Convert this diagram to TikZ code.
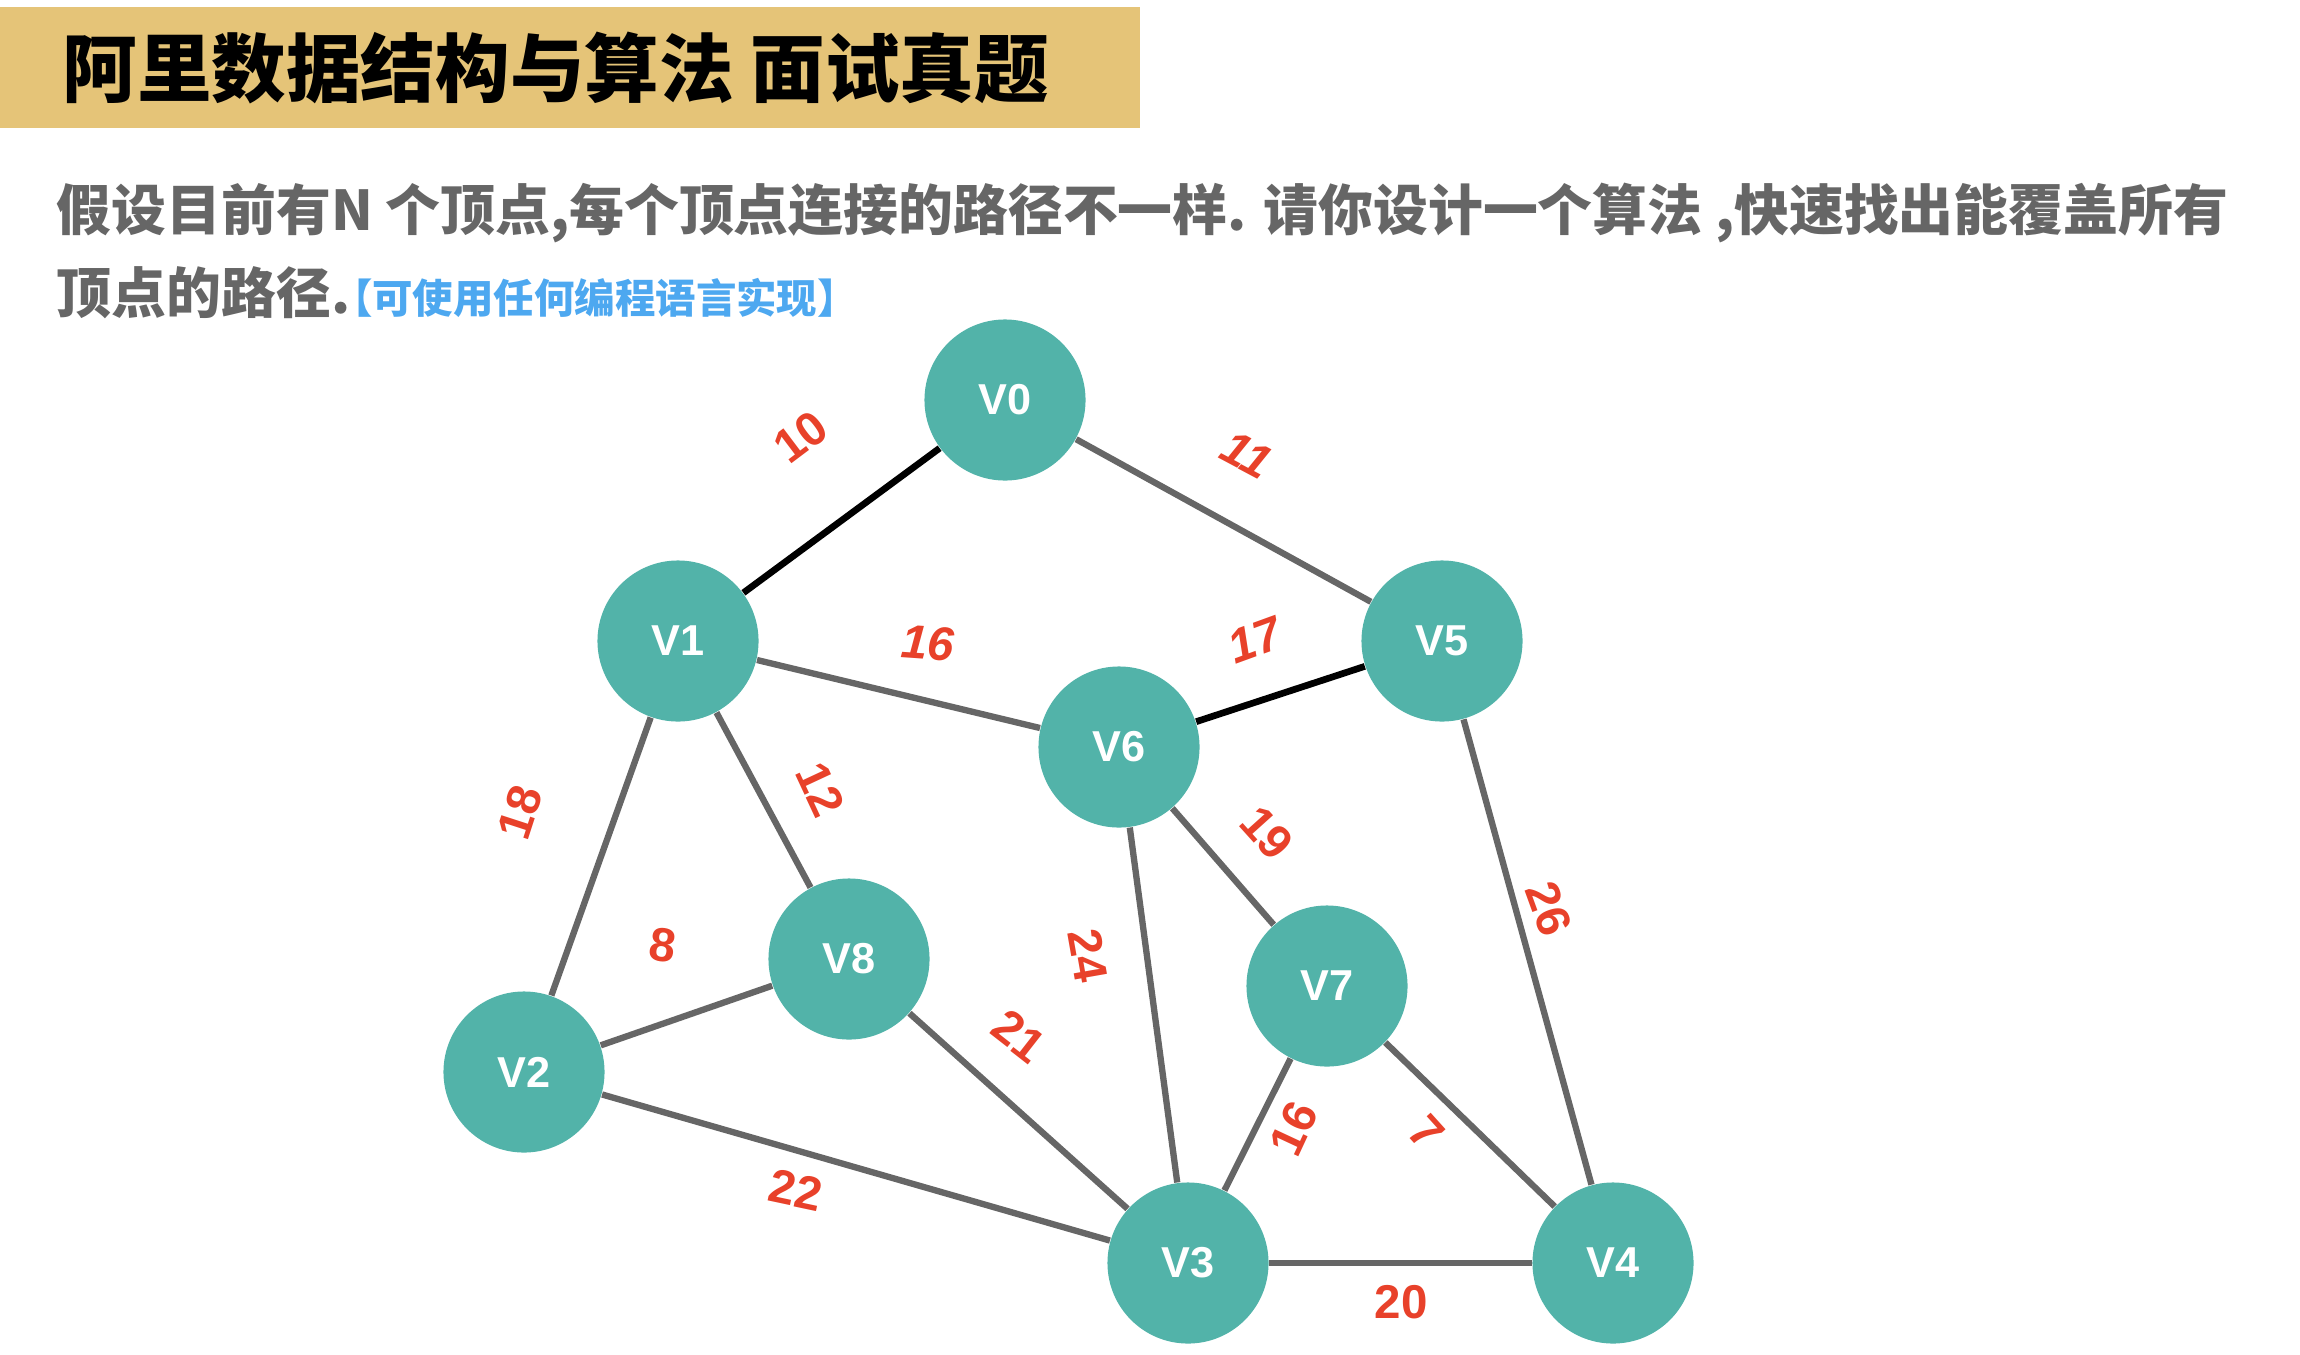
\documentclass[tikz,border=0pt]{standalone}
\usepackage{fontspec}
\setmainfont{Liberation Sans}
\newfontfamily\cjk{Noto Sans CJK SC}
\usetikzlibrary{positioning}
\definecolor{titlegold}{RGB}{229,196,120}
\definecolor{vteal}{RGB}{82,179,169}
\definecolor{roadgrey}{RGB}{102,102,102}
\definecolor{wtred}{RGB}{232,65,42}
\definecolor{askgrey}{RGB}{102,102,102}
\definecolor{hintblue}{RGB}{77,168,240}

\begin{document}
\begin{tikzpicture}[x=0.01cm,y=-0.01cm,
  vertex/.style={circle,fill=vteal,minimum size=1.61cm,inner sep=0pt,text=white,
    font=\bfseries\fontsize{12.3}{13}\selectfont},
  road/.style={draw=roadgrey,line width=1.8pt},
  best/.style={draw=black,line width=1.9pt},
  wt/.style={text=wtred,inner sep=0pt,font=\bfseries\fontsize{13.5}{14}\selectfont},
  wti/.style={wt,font=\bfseries\itshape\fontsize{13.5}{14}\selectfont}]
  \useasboundingbox (0,0) rectangle (2300,1354);
  \fill[titlegold] (0,7) rectangle (1140,128);
  \node[anchor=west,inner sep=0pt,font=\cjk\bfseries\fontsize{21.2}{22}\selectfont] (title) at (62,68)
    {阿里数据结构与算法 面试真题};
  \node[anchor=west,inner sep=0pt,text=askgrey,font=\cjk\bfseries\fontsize{15.6}{16}\selectfont] (ask1) at (56,213)
    {假设目前有N 个顶点,每个顶点连接的路径不一样. 请你设计一个算法 ,快速找出能覆盖所有};
  \node[anchor=west,inner sep=0pt,text=askgrey,font=\cjk\bfseries\fontsize{15.6}{16}\selectfont] (ask2) at (56,293)
    {顶点的路径.{\color{hintblue}\fontsize{11.5}{12}\selectfont\kern-0.45em【可使用任何编程语言实现】}};

  \node[vertex] (v0) at (1005,400) {V0};
  \node[vertex] (v1) at (678,641) {V1};
  \node[vertex] (v5) at (1442,641) {V5};
  \node[vertex] (v6) at (1119,747) {V6};
  \node[vertex] (v8) at (849,959) {V8};
  \node[vertex] (v7) at (1327,986) {V7};
  \node[vertex] (v2) at (524,1072) {V2};
  \node[vertex] (v3) at (1188,1263) {V3};
  \node[vertex] (v4) at (1613,1263) {V4};

  \draw[best] (v0) -- (v1);
  \draw[best] (v6) -- (v5);
  \draw[road] (v0) -- (v5);
  \draw[road] (v1) -- (v6);
  \draw[road] (v1) -- (v8);
  \draw[road] (v1) -- (v2);
  \draw[road] (v2) -- (v8);
  \draw[road] (v2) -- (v3);
  \draw[road] (v8) -- (v3);
  \draw[road] (v6) -- (v3);
  \draw[road] (v6) -- (v7);
  \draw[road] (v7) -- (v3);
  \draw[road] (v7) -- (v4);
  \draw[road] (v5) -- (v4);
  \draw[road] (v3) -- (v4);

  \node[wt,rotate=37] (w01) at (801,437) {10};
  \node[wti,rotate=-28] (w05) at (1247,455) {11};
  \node[wti,rotate=-4] (w16) at (928,643) {16};
  \node[wti,rotate=20] (w65) at (1255,640) {17};
  \node[wt,rotate=-65] (w18) at (821,789) {12};
  \node[wt,rotate=72] (w12) at (520,812) {18};
  \node[wt,rotate=-8] (w28) at (663,945) {8};
  \node[wt,rotate=-38] (w83) at (1019,1036) {21};
  \node[wt,rotate=-80] (w63) at (1088,956) {24};
  \node[wt,rotate=-48] (w67) at (1267,833) {19};
  \node[wt,rotate=-70] (w54) at (1549,909) {26};
  \node[wt,rotate=65] (w73) at (1294,1129) {16};
  \node[wt,rotate=-48] (w74) at (1426,1132) {7};
  \node[wt,rotate=-12] (w23) at (796,1190) {22};
  \node[wt] (w34) at (1401,1302) {20};
\end{tikzpicture}
\end{document}
